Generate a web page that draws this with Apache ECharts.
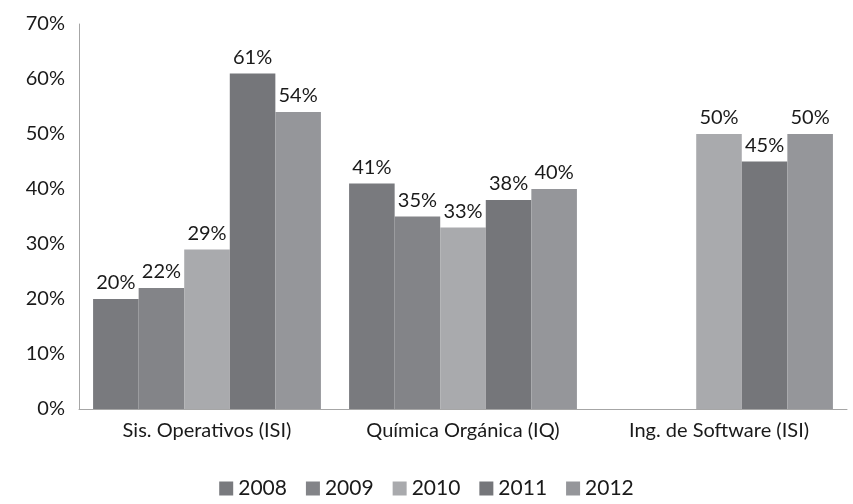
<!DOCTYPE html>
<html><head><meta charset="utf-8">
<script src="https://cdn.jsdelivr.net/npm/echarts@6/dist/echarts.min.js"></script>
<style>html,body{margin:0;padding:0;background:#fff}#c{width:853px;height:504px}</style>
</head><body><div id="c"></div>
<script>
const categories = ['Sis. Operativos (ISI)', 'Química Orgánica (IQ)', 'Ing. de Software (ISI)'];
const seriesNames = ['2008', '2009', '2010', '2011', '2012'];
const v2008 = [20, 41, null];
const v2009 = [22, 35, null];
const v2010 = [29, 33, 50];
const v2011 = [61, 38, 45];
const v2012 = [54, 40, 50];
const yTicks = [0, 10, 20, 30, 40, 50, 60, 70];
const colors = ['#797a7e', '#838488', '#a9aaad', '#75767a', '#95969a'];
const values = [v2008, v2009, v2010, v2011, v2012];
const font = 'Lato, sans-serif';
const fs = 20;
const chart = echarts.init(document.getElementById('c'));
chart.setOption({
  animation: false,
  color: colors,
  textStyle: {fontFamily: font},
  grid: {left: 79, right: 6, top: 24, bottom: 95},
  legend: {
    bottom: 0, left: 'center', itemWidth: 14, itemHeight: 14, itemGap: 19,
    icon: 'rect',
    textStyle: {fontSize: 21, color: '#1a1a1a', fontFamily: font},
    data: seriesNames
  },
  xAxis: {
    type: 'category', data: categories,
    axisLine: {lineStyle: {color: '#a6a6a6'}},
    axisTick: {show: false},
    axisLabel: {fontSize: fs, color: '#1a1a1a', margin: 12, fontFamily: font}
  },
  yAxis: {
    type: 'value', min: yTicks[0], max: yTicks[yTicks.length - 1], interval: 10,
    axisLine: {show: true, lineStyle: {color: '#a6a6a6'}},
    axisTick: {show: false},
    splitLine: {show: false},
    axisLabel: {fontSize: fs, color: '#1a1a1a', margin: 14, formatter: '{value}%', fontFamily: font}
  },
  series: seriesNames.map((n, i) => ({
    name: n, type: 'bar', data: values[i],
    barGap: '0%', barCategoryGap: '11%',
    itemStyle: {color: colors[i]},
    label: {show: true, position: 'top', formatter: '{c}%', fontSize: fs, color: '#1a1a1a', fontFamily: font, distance: 6}
  }))
});
</script></body></html>
